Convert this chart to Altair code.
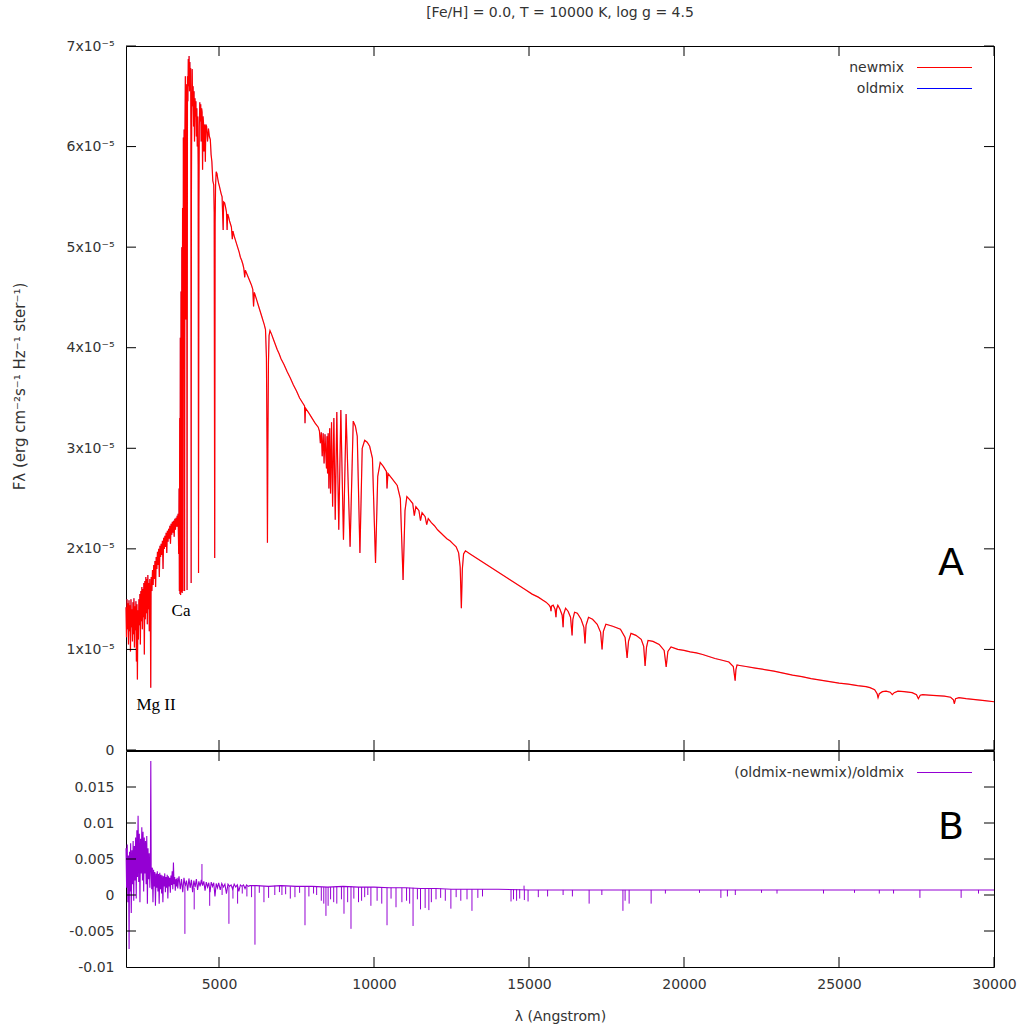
import altair as alt
import pandas as pd

# ---------------- text ----------------
TITLE = "[Fe/H] = 0.0, T = 10000 K, log g = 4.5"
Y_TITLE = "F\u03bb (erg cm\u207b\u00b2s\u207b\u00b9 Hz\u207b\u00b9 ster\u207b\u00b9)"
X_TITLE = "\u03bb (Angstrom)"
legend_top = ["newmix", "oldmix"]
legend_bottom = ["(oldmix-newmix)/oldmix"]
annotations = [("Ca", 3774, 1.38), ("Mg II", 2968, 0.45)]
panel_a = ("A", 28613, 1.85)
panel_b = ("B", 28613, 0.0093)

x_ticks = [5000, 10000, 15000, 20000, 25000, 30000]
y_ticks_top = [0, 1, 2, 3, 4, 5, 6, 7]          # units of 1e-5
y_ticks_bottom = [-0.01, -0.005, 0, 0.005, 0.01, 0.015]
y_ticks_bottom_marks = [-0.005, 0, 0.005, 0.01, 0.015]

# ---------------- spectrum (newmix), flux in 1e-5 erg cm^-2 s^-1 Hz^-1 ster^-1 -------------
spec_uv = [(2000,1.42),(2016,1.12),(2032,1.50),(2048,1.20),(2064,1.46),(2080,1.05),(2096,1.49),
    (2112,1.18),(2128,1.44),(2144,0.98),(2160,1.50),(2176,1.22),(2192,1.40),(2208,1.08),(2224,1.47),
    (2240,1.15),(2256,1.51),(2272,1.02),(2288,1.43),(2304,1.19),(2320,1.48),(2336,0.88),(2352,1.45),
    (2368,0.70),(2384,1.39),(2400,1.10),(2416,1.50),(2432,1.24),(2448,1.55),(2464,1.05),(2480,1.58),
    (2496,1.28),(2512,1.62),(2528,1.20),(2544,1.60),(2560,1.32),(2576,1.66),(2592,0.95),(2608,1.68),
    (2624,1.30),(2640,1.72),(2656,1.36),(2672,1.70),(2688,1.25),(2704,1.74),(2720,1.40),(2736,1.66),
    (2752,1.18),(2768,1.70),(2784,1.45),(2798,0.62),(2808,1.55)]
spec_nuv = [(2815,1.72),(2835,1.58),(2855,1.79),(2875,1.64),(2895,1.84),(2915,1.70),(2935,1.88),
    (2955,1.62),(2975,1.92),(2995,1.80),(3015,1.97),(3035,1.84),(3055,2.00),(3075,1.72),(3095,2.03),
    (3115,1.92),(3135,2.05),(3155,1.94),(3175,2.08),(3195,1.80),(3215,2.11),(3235,2.00),(3255,2.13),
    (3275,2.02),(3295,2.16),(3315,1.96),(3335,2.18),(3355,2.07),(3375,2.20),(3395,2.10),(3415,2.23),
    (3435,2.05),(3455,2.25),(3475,2.14),(3495,2.27),(3515,2.16),(3535,2.28),(3555,2.12),(3575,2.30),
    (3595,2.19),(3615,2.31),(3635,2.22),(3650,2.33)]
spec_jump = [(3665,2.22),(3680,2.35),(3700,1.95),(3712,2.60),(3722,1.58),(3733,3.30),(3742,1.55),
    (3752,4.10),(3762,1.54),(3775,4.56),(3788,1.57),(3800,5.00),(3812,1.56),(3825,5.39),(3836,1.58),
    (3850,6.09),(3862,5.60),(3875,6.17),(3889,1.58),(3902,6.20),(3915,6.70),(3925,6.24),(3934,4.28),
    (3945,6.40),(3958,6.62),(3970,1.59),(3983,6.70),(3995,6.45),(4010,6.87),(4022,6.60),(4035,6.90),
    (4048,6.55),(4060,6.84),(4072,6.62),(4085,6.78),(4094,6.10),(4102,1.66),(4110,5.50)]
spec_blue = [(4120,6.30),(4135,6.77),(4150,6.40),(4165,6.60),(4180,6.20),(4195,6.55),(4210,6.05),
    (4225,6.48),(4240,6.30),(4255,6.45),(4270,6.10),(4285,6.38),(4300,6.00),(4315,6.30),(4328,5.82),
    (4340,1.76),(4352,5.40),(4365,6.20),(4380,6.44),(4395,6.25),(4410,6.42),(4425,6.05),(4440,6.38),
    (4455,6.34),(4470,5.77),(4485,6.30),(4500,6.24),(4515,5.95),(4530,6.22),(4545,6.17),(4560,5.85),
    (4575,6.22),(4600,6.20),(4630,6.05),(4660,6.18),(4690,6.10),(4720,6.07),(4745,5.92),(4770,5.85),
    (4800,5.66),(4830,5.62),(4845,5.35),(4861,1.91),(4875,5.24),(4890,5.62)]
spec_vis = [(4910,5.75),(4935,5.73),(4960,5.68),(4985,5.64),(5010,5.61),(5040,5.57),(5070,5.53),
    (5100,5.50),(5120,5.30),(5135,5.17),(5150,5.45),(5180,5.44),(5210,5.40),(5240,5.35),(5262,5.17),
    (5280,5.33),(5310,5.30),(5340,5.26),(5370,5.23),(5400,5.20),(5430,5.08),(5450,5.16),(5490,5.11),
    (5530,5.07),(5570,5.03),(5610,4.99),(5650,4.95),(5690,4.90),(5730,4.87),(5770,4.83),(5800,4.79),
    (5830,4.70),(5850,4.77),(5890,4.74),(5930,4.71),(5970,4.68),(6010,4.65),(6050,4.62),(6090,4.58),
    (6115,4.41),(6140,4.55),(6180,4.51),(6220,4.47),(6260,4.43),(6300,4.39),(6340,4.35),(6380,4.31),
    (6420,4.27),(6460,4.23),(6500,4.18),(6530,3.90),(6550,3.00),(6563,2.06),(6576,3.00),(6595,3.85),
    (6615,4.12),(6645,4.17),(6700,4.13),(6760,4.08),(6820,4.03),(6880,3.98),(6940,3.94),(7000,3.89),
    (7100,3.83),(7200,3.76),(7300,3.70),(7400,3.63),(7500,3.57),(7600,3.50),(7700,3.45),(7760,3.42),
    (7775,3.25),(7790,3.40),(7900,3.35),(8000,3.30),(8100,3.25),(8200,3.21)]
spec_paschen = [(8240,3.17),(8270,3.05),(8300,3.16),(8330,2.92),(8360,3.15),(8390,2.85),(8420,3.14),
    (8445,2.95),(8467,2.80),(8485,3.12),(8502,2.75),(8522,3.15),(8545,2.60),(8570,3.20),(8598,2.55),
    (8630,3.26),(8665,2.42),(8705,3.30),(8750,2.29),(8800,3.36),(8863,2.19),(8930,3.38),(9015,2.09),
    (9100,3.34),(9229,2.02),(9330,3.27),(9400,3.22),(9460,3.12),(9546,1.96),(9620,3.00),(9700,3.08),
    (9780,3.06),(9860,3.02),(9950,2.90),(10049,1.86),(10120,2.72),(10200,2.86),(10300,2.82),
    (10400,2.77),(10420,2.60),(10450,2.75),(10550,2.71),(10650,2.67),(10750,2.63),(10850,2.50),
    (10938,1.69),(11000,2.38),(11060,2.52),(11150,2.49),(11250,2.45),(11300,2.33),(11350,2.42),
    (11450,2.38),(11500,2.28),(11550,2.36),(11650,2.32),(11700,2.24),(11750,2.30),(11850,2.26),
    (11950,2.23),(12050,2.19),(12150,2.16),(12250,2.13),(12350,2.10),(12450,2.08),(12550,2.05),
    (12650,2.02),(12730,1.96),(12780,1.82),(12818,1.41),(12850,1.80),(12890,1.95),(12950,1.98)]
spec_ir = [(13100,1.95),(13300,1.91),(13500,1.87),(13700,1.83),(13900,1.79),(14100,1.75),(14300,1.71),
    (14500,1.67),(14700,1.63),(14900,1.59),(15100,1.55),(15300,1.52),(15450,1.49)]
spec_brackett = [(15550,1.47),(15650,1.44),(15690,1.42),(15710,1.38),(15725,1.43),(15780,1.44),
    (15840,1.40),(15870,1.32),(15890,1.40),(15930,1.44),(16000,1.40),(16070,1.34),(16100,1.22),
    (16120,1.35),(16180,1.41),(16260,1.38),(16340,1.32),(16390,1.14),(16415,1.30),(16470,1.37),
    (16560,1.36),(16680,1.30),(16770,1.22),(16807,1.06),(16840,1.24),(16920,1.32),(17050,1.30),
    (17200,1.25),(17310,1.17),(17357,1.00),(17400,1.18),(17480,1.25),(17700,1.23),(17950,1.20),
    (18100,1.12),(18165,0.915),(18210,1.08),(18290,1.16),(18450,1.14),(18620,1.10),(18700,1.03),
    (18745,0.835),(18790,1.02),(18840,1.09),(19000,1.08),(19200,1.05),(19360,0.99),(19425,0.826),
    (19480,0.98),(19580,1.025),(19800,1.00),(20000,0.99),(20200,0.975),(20400,0.965),(20600,0.95),
    (20800,0.93),(21000,0.91),(21200,0.895),(21450,0.875),(21590,0.83),(21650,0.69),(21675,0.80),
    (21710,0.845),(21800,0.84),(22000,0.83),(22300,0.815),(22600,0.80),(22900,0.785),(23200,0.765),
    (23500,0.745),(23800,0.73),(24100,0.71),(24400,0.695),(24700,0.68),(25000,0.665),(25300,0.655),
    (25600,0.64),(25870,0.63),(26000,0.62),(26150,0.60),(26230,0.56),(26260,0.52),(26300,0.56),
    (26400,0.58),(26520,0.585),(26650,0.575),(26720,0.55),(26780,0.57),(26900,0.585),(27100,0.58),
    (27360,0.57),(27500,0.55),(27560,0.51),(27620,0.545),(27700,0.55),(27900,0.545),(28150,0.54),
    (28400,0.535),(28600,0.525),(28690,0.50),(28720,0.46),(28760,0.51),(28870,0.52),(29100,0.51),
    (29400,0.50),(29700,0.49),(30000,0.48)]

newmix = spec_uv + spec_nuv + spec_jump + spec_blue + spec_vis + spec_paschen + spec_ir + spec_brackett
oldmix = list(newmix)   # the two models coincide at this scale

# ---------------- relative difference (oldmix-newmix)/oldmix ----------------
ratio_uv = [(2000,0.0065),(2020,0.0010),(2040,0.0070),(2060,-0.0010),(2080,0.0055),(2100,-0.0075),
    (2115,0.0060),(2130,0.0005),(2150,0.0072),(2170,-0.0025),(2190,0.0062),(2210,0.0015),(2230,0.0075),
    (2250,-0.0008),(2270,0.0068),(2290,0.0020),(2310,0.0080),(2330,-0.0005),(2350,0.0090),(2370,0.0025),
    (2390,0.0110),(2410,0.0018),(2430,0.0085),(2450,-0.0010),(2470,0.0078),(2490,0.0030),(2510,0.0094),
    (2530,0.0020),(2550,0.0088),(2570,0.0005),(2590,0.0080),(2610,0.0030),(2630,0.0075),(2650,0.0015),
    (2670,0.0082),(2690,-0.0012),(2710,0.0065),(2730,0.0022),(2750,0.0058),(2770,0.0010),(2788,0.0050),
    (2800,0.0186),(2812,0.0040)]
ratio_band = [(2830,0.0008),(2850,0.0038),(2870,-0.0010),(2890,0.0035),(2910,0.0012),(2930,0.0032),
    (2950,-0.0015),(2970,0.0030),(2990,0.0010),(3010,0.0033),(3030,0.0005),(3050,0.0029),(3070,-0.0012),
    (3090,0.0031),(3110,0.0008),(3130,0.0028),(3150,0.0002),(3170,0.0027),(3190,-0.0010),(3210,0.0026),
    (3230,0.0012),(3250,0.0030),(3270,0.0004),(3290,0.0025),(3310,0.0010),(3330,0.0028),(3350,-0.0005),
    (3370,0.0026),(3390,0.0012),(3410,0.0024),(3430,0.0003),(3450,0.0027),(3470,0.0014),(3490,0.0033),
    (3510,0.0008),(3530,0.0045),(3550,0.0015),(3570,0.0025),(3590,0.0006),(3610,0.0022),(3630,0.0012),
    (3650,0.0024),(3670,0.0009),(3690,0.0020),(3710,0.0026),(3750,0.0008),(3790,0.0022),(3830,0.0004),
    (3870,0.0024),(3910,0.0012),(3950,0.0020),(3990,0.0006),(4030,0.0023),(4070,0.0010),(4110,0.0021),
    (4150,0.0004),(4190,0.0020),(4230,0.0011),(4270,0.0022),(4310,0.0007),(4350,0.0019),(4390,0.0012),
    (4430,0.0021),(4470,0.0013),(4510,0.0019),(4550,0.0006),(4590,0.0018),(4630,0.0011),(4670,0.0017),
    (4710,0.0004),(4750,0.0018),(4790,0.0012),(4830,0.0017),(4870,-0.0002),(4910,0.0016),(4950,0.0010),
    (4990,0.0017),(5040,0.0007),(5090,0.0016),(5140,0.0011),(5190,0.0015),(5240,0.0002),(5290,0.0015),
    (5340,0.0012),(5390,0.0014),(5440,0.0008),(5490,0.0015),(5540,0.0011),(5590,0.0014),(5640,0.0005),
    (5690,0.0014),(5740,0.0012),(5790,0.0014),(5840,0.0009),(5890,0.0014),(5940,0.0012),(6000,0.0013)]
ratio_base = [(6200,0.0013),(6600,0.0012),(7000,0.0013),(7500,0.0012),(8000,0.0012),(8500,0.0011),
    (9000,0.0012),(9500,0.0011),(10000,0.0011),(10500,0.0010),(11000,0.0010),(11500,0.0009),
    (12000,0.0009),(12500,0.0008),(13000,0.0008),(14000,0.0008),(15000,0.0007),(16000,0.0007),
    (18000,0.0007),(20000,0.0007),(22000,0.0007),(25000,0.0007),(28000,0.0007),(30000,0.0007)]
ratio_line = ratio_uv + ratio_band + ratio_base

# isolated spikes: (wavelength, from, to)
ratio_spikes = [(3900,0.0012,-0.0054),(4200,0.0010,-0.0020),(4450,0.0015,0.0043),(4700,0.0010,-0.0015),
    (5100,0.0012,0.0000),(5320,0.0012,-0.0040),(5450,0.0012,-0.0005),(5600,0.0012,-0.0012),
    (5750,0.0012,0.0002),(5900,0.0012,-0.0002),(6050,0.0013,-0.0003),(6160,0.0013,-0.0069),
    (6300,0.0013,0.0003),(6450,0.0012,-0.0010),(6600,0.0012,-0.0004),(6800,0.0013,0.0000),
    (6950,0.0013,0.0004),(7030,0.0013,0.0000),(7150,0.0012,0.0001),(7300,0.0012,-0.0005),
    (7450,0.0012,-0.0003),(7600,0.0012,0.0003),(7774,0.0012,-0.0042),(7900,0.0012,-0.0002),
    (8050,0.0012,0.0002),(8150,0.0012,0.0000),(8300,0.0011,-0.0008),(8380,0.0011,-0.0012),
    (8450,0.0011,-0.0029),(8520,0.0011,-0.0015),(8600,0.0011,-0.0006),(8700,0.0011,-0.0010),
    (8800,0.0012,-0.0012),(8950,0.0012,-0.0006),(9032,0.0012,-0.0026),(9150,0.0012,-0.0010),
    (9258,0.0012,-0.0047),(9350,0.0011,-0.0005),(9500,0.0011,-0.0010),(9600,0.0011,-0.0008),
    (9700,0.0011,-0.0003),(9800,0.0011,0.0000),(9900,0.0011,-0.0015),(10100,0.0011,-0.0008),
    (10250,0.0010,-0.0012),(10420,0.0010,-0.0042),(10550,0.0010,-0.0005),(10710,0.0010,-0.0017),
    (10900,0.0010,-0.0010),(11050,0.0010,-0.0008),(11150,0.0010,-0.0012),(11260,0.0010,-0.0043),
    (11400,0.0009,-0.0006),(11500,0.0009,-0.0020),(11650,0.0009,-0.0018),(11770,0.0009,-0.0021),
    (11850,0.0009,-0.0010),(12000,0.0009,-0.0006),(12150,0.0009,-0.0004),(12300,0.0008,-0.0008),
    (12480,0.0008,-0.0019),(12650,0.0008,-0.0003),(12800,0.0008,-0.0008),(13000,0.0008,-0.0006),
    (13160,0.0008,-0.0022),(13350,0.0008,-0.0004),(13500,0.0008,-0.0002),(14420,0.0008,-0.0009),
    (14500,0.0008,-0.0006),(14600,0.0008,-0.0008),(14700,0.0008,-0.0005),(14840,0.0008,0.0013),
    (14850,0.0008,-0.0007),(14970,0.0007,-0.0009),(15300,0.0007,-0.0003),(15600,0.0007,-0.0002),
    (16100,0.0007,0.0000),(16400,0.0007,-0.0002),(16940,0.0007,-0.0012),(17350,0.0007,0.0000),
    (18030,0.0007,-0.0022),(18100,0.0007,-0.0008),(18230,0.0007,-0.0012),(18940,0.0007,-0.0012),
    (19400,0.0007,0.0002),(20500,0.0007,0.0003),(21190,0.0007,-0.0004),(21400,0.0007,-0.0002),
    (21655,0.0007,0.0000),(22500,0.0007,0.0003),(23000,0.0007,0.0002),(24500,0.0007,0.0002),
    (25500,0.0007,0.0003),(26300,0.0007,0.0002),(26760,0.0007,0.0002),(27610,0.0007,-0.0004),
    (28940,0.0007,-0.0004),(29500,0.0007,0.0002)]

# ---------------- styling ----------------
W, H1, H2 = 868, 704, 216
TL = 10
FONT = "DejaVu Sans"
TXT = "#333333"
RED, BLUE, PURPLE = "#ff0000", "#0000ff", "#9400d3"

xs = alt.Scale(domain=[2000, 30000], nice=False, zero=False)
ys1 = alt.Scale(domain=[0, 7], nice=False, zero=False)
ys2 = alt.Scale(domain=[-0.01, 0.02], nice=False, zero=False)

new_df = pd.DataFrame(newmix, columns=["wave", "flux"])
old_df = pd.DataFrame(oldmix, columns=["wave", "flux"])
ratio_df = pd.DataFrame(ratio_line, columns=["wave", "ratio"])
spike_df = pd.DataFrame(ratio_spikes, columns=["wave", "ratio", "r1"])
xt_df = pd.DataFrame({"wave": x_ticks})
yt1_df = pd.DataFrame({"flux": y_ticks_top})
yt2_df = pd.DataFrame({"ratio": y_ticks_bottom_marks})

top_xaxis = None
top_yaxis = alt.Axis(values=y_ticks_top, ticks=False, domain=False, grid=False,
                     labelExpr="datum.value == 0 ? '0' : datum.value + 'x10\u207b\u2075'",
                     labelPadding=12, labelFontSize=14, labelFont=FONT, labelColor=TXT,
                     title=Y_TITLE, titleFont=FONT, titleFontSize=15, titleFontWeight="normal",
                     titleColor=TXT, titlePadding=38, titleY=340)
bottom_xaxis = alt.Axis(values=x_ticks, format="d", ticks=False, domain=False, grid=False,
                        labelFlush=False, labelOverlap=False, labelPadding=10, labelFontSize=14,
                        labelFont=FONT, labelColor=TXT, title=X_TITLE, titleFont=FONT,
                        titleFontSize=14, titleFontWeight="normal", titleColor=TXT, titlePadding=18)
bottom_yaxis = alt.Axis(values=y_ticks_bottom, ticks=False, domain=False, grid=False,
                        labelExpr="replace(format(datum.value, '~g'), '\u2212', '-')",
                        labelPadding=12, labelFontSize=14, labelFont=FONT, labelColor=TXT, title=None)


def build_panel(xaxis, yfield, yscale, yaxis, h, series, tick_df, legend, big_label):
    def X():
        return alt.X("wave:Q", scale=xs, axis=xaxis)

    def Y(field=yfield):
        return alt.Y(field + ":Q", scale=yscale, axis=yaxis)

    layers = list(series(X, Y))
    # inward, mirrored ticks
    layers.append(alt.Chart(xt_df).mark_rule(color="black").encode(
        x=X(), y=alt.value(h), y2=alt.value(h - TL)))
    layers.append(alt.Chart(xt_df).mark_rule(color="black").encode(
        x=X(), y=alt.value(0), y2=alt.value(TL)))
    layers.append(alt.Chart(tick_df).mark_rule(color="black").encode(
        y=Y(), x=alt.value(0), x2=alt.value(TL)))
    layers.append(alt.Chart(tick_df).mark_rule(color="black").encode(
        y=Y(), x=alt.value(W - TL), x2=alt.value(W)))
    # legend
    for i, (label, color) in enumerate(legend):
        d = pd.DataFrame({"label": [label]})
        ypix = 21.5 + 21 * i
        layers.append(alt.Chart(d).mark_text(align="right", baseline="middle", font=FONT,
                                             fontSize=14, color=TXT).encode(
            text="label:N", x=alt.value(778), y=alt.value(ypix)))
        layers.append(alt.Chart(d).mark_rule(color=color, strokeWidth=1.2).encode(
            x=alt.value(791), x2=alt.value(846), y=alt.value(ypix)))
    # panel letter
    bd = pd.DataFrame([big_label], columns=["label", "wave", yfield])
    layers.append(alt.Chart(bd).mark_text(font=FONT, fontSize=38, color="black", align="center",
                                          baseline="middle").encode(x=X(), y=Y(), text="label:N"))
    return layers


def top_series(X, Y):
    old_line = alt.Chart(old_df).mark_line(color=BLUE, strokeWidth=0.4, opacity=0.6).encode(
        x=X(), y=Y())
    new_line = alt.Chart(new_df).mark_line(color=RED, strokeWidth=1.2).encode(x=X(), y=Y())
    ann_df = pd.DataFrame(annotations, columns=["label", "wave", "flux"])
    ann = alt.Chart(ann_df).mark_text(font="Liberation Serif", fontSize=17, color="black",
                                      align="center", baseline="middle").encode(
        x=X(), y=Y(), text="label:N")
    return [old_line, new_line, ann]


def bottom_series(X, Y):
    line = alt.Chart(ratio_df).mark_line(color=PURPLE, strokeWidth=1.1).encode(x=X(), y=Y())
    spikes = alt.Chart(spike_df).mark_rule(color=PURPLE, strokeWidth=1).encode(
        x=X(), y=Y(), y2="r1:Q")
    return [line, spikes]


top_layers = build_panel(top_xaxis, "flux", ys1, top_yaxis, H1, top_series, yt1_df,
                         [(legend_top[0], RED), (legend_top[1], BLUE)], panel_a)
bottom_layers = build_panel(bottom_xaxis, "ratio", ys2, bottom_yaxis, H2, bottom_series, yt2_df,
                            [(legend_bottom[0], PURPLE)], panel_b)

top = alt.layer(*top_layers).properties(
    width=W, height=H1,
    title=alt.TitleParams(TITLE, font=FONT, fontSize=14, fontWeight="normal", color=TXT,
                          anchor="middle", frame="group", offset=19))
bottom = alt.layer(*bottom_layers).properties(width=W, height=H2)

chart = alt.vconcat(top, bottom, spacing=1, bounds="flush").resolve_scale(y="independent").properties(
    padding={"left": 12, "top": 5, "right": 4, "bottom": 4}
).configure(background="white").configure_view(stroke="black", strokeWidth=1)

chart.save("out.html", embed_options={"renderer": "svg", "actions": False})
